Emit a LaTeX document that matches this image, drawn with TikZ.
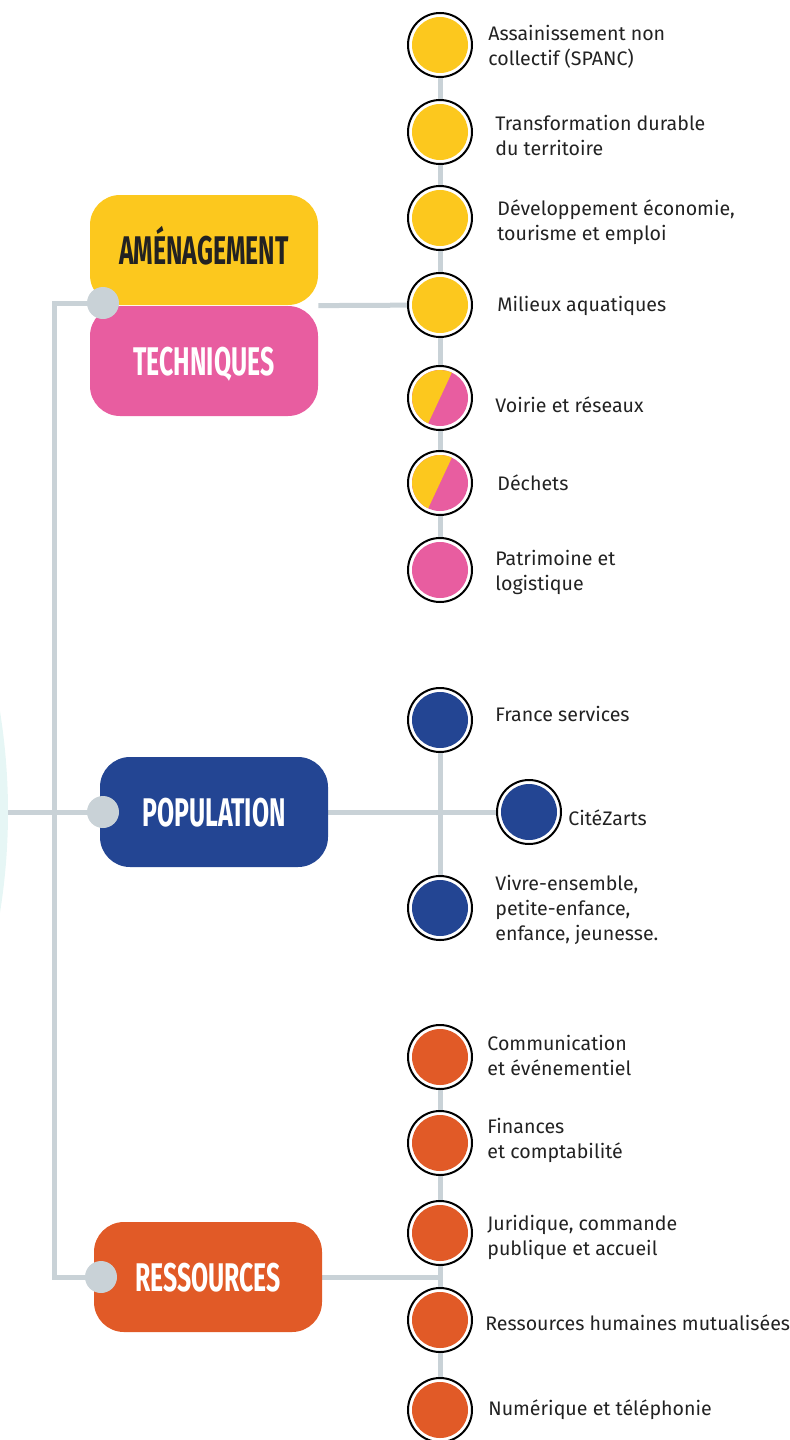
\documentclass[tikz,border=0pt]{standalone}
\usepackage{fontspec}
\setmainfont{Fira Sans}
\newfontfamily\titlefont[FakeStretch=0.62]{Fira Sans}
\usetikzlibrary{backgrounds}
\definecolor{amenyellow}{HTML}{FCC81E}
\definecolor{techpink}{HTML}{E85DA0}
\definecolor{popblue}{HTML}{234593}
\definecolor{resorange}{HTML}{E15A27}
\definecolor{linegray}{HTML}{C9D2D7}
\definecolor{paleteal}{HTML}{E6F6F5}
\definecolor{textgray}{HTML}{222222}
\tikzset{x=0.5pt, y=-0.5pt, % one unit = one pixel of the layout, y going down
        branch/.style={draw=linegray, line width=2.5pt},
        pole/.style={ % the four coloured headings
            rounded corners=15pt,
            minimum width=114pt, minimum height=55pt, inner sep=0pt,
            text height=14pt, text depth=0pt,
            font=\titlefont\bfseries\fontsize{20}{20}\selectfont},
        joint/.style={circle, fill=linegray, minimum size=16pt, inner sep=0pt},
        service/.style={ % ringed disc of one colour
            circle, draw=black, line width=1pt, fill=white,
            minimum size=32pt, inner sep=0pt,
            path picture={\fill[#1] (path picture bounding box.center) circle (14pt);}},
        shared/.style={ % half yellow, half pink
            circle, draw=black, line width=1pt, fill=white,
            minimum size=32pt, inner sep=0pt,
            path picture={
                \fill[techpink] (path picture bounding box.center) circle (14pt);
                \fill[amenyellow] (path picture bounding box.center) ++(65:14pt)
                    arc[start angle=65, end angle=245, radius=14pt] -- cycle;}},
        servtext/.style={anchor=west, align=left, inner sep=0pt,
            text=textgray, font=\fontsize{9.8}{12.5}\selectfont}
        }

\begin{document}
\begin{tikzpicture}
    \useasboundingbox (0,0) rectangle (790,1440);

    % headings
    \node[pole, fill=amenyellow, text=textgray] (amen) at (204,250) {AMÉNAGEMENT};
    \node[pole, fill=techpink, text=white] (tech) at (204,361) {TECHNIQUES};
    \node[pole, fill=popblue, text=white] (pop) at (214,812) {POPULATION};
    \node[pole, fill=resorange, text=white] (res) at (208,1277) {RESSOURCES};

    \node[joint] (dA) at (103,303) {};
    \node[joint] (dP) at (103,812) {};
    \node[joint] (dR) at (101,1277) {};

    \coordinate (trunktop) at (54,303);
    \coordinate (arcedge) at (8,812);

    % services
    \node[service=amenyellow] (c1) at (440,45) {};
    \node[service=amenyellow] (c2) at (440,132) {};
    \node[service=amenyellow] (c3) at (440,218) {};
    \node[service=amenyellow] (c4) at (440,305) {};
    \node[shared] (c5) at (440,398) {};
    \node[shared] (c6) at (440,483) {};
    \node[service=techpink] (c7) at (440,570) {};

    \node[service=popblue] (p1) at (440,720) {};
    \node[service=popblue] (p2) at (529,812) {};
    \node[service=popblue] (p3) at (440,908) {};

    \node[service=resorange] (r1) at (440,1057) {};
    \node[service=resorange] (r2) at (440,1143) {};
    \node[service=resorange] (r3) at (440,1233) {};
    \node[service=resorange] (r4) at (440,1320) {};
    \node[service=resorange] (r5) at (440,1410) {};

    \node[servtext] (t1) at (488,47) {Assainissement non\\collectif (SPANC)};
    \node[servtext] (t2) at (495,135) {Transformation durable\\du territoire};
    \node[servtext] (t3) at (497,222) {Développement économie,\\tourisme et emploi};
    \node[servtext] (t4) at (497,306) {Milieux aquatiques};
    \node[servtext] (t5) at (495,405) {Voirie et réseaux};
    \node[servtext] (t6) at (497,483) {Déchets};
    \node[servtext] (t7) at (495,572) {Patrimoine et\\logistique};

    \node[servtext] (q1) at (495,714) {France services};
    \node[servtext] (q2) at (568,818) {CitéZarts};
    \node[servtext] (q3) at (495,910) {Vivre-ensemble,\\petite-enfance,\\enfance, jeunesse.};

    \node[servtext] (s1) at (487,1055) {Communication\\et événementiel};
    \node[servtext] (s2) at (487,1140) {Finances\\et comptabilité};
    \node[servtext] (s3) at (487,1237) {Juridique, commande\\publique et accueil};
    \node[servtext] (s4) at (485,1323) {Ressources humaines mutualisées};
    \node[servtext] (s5) at (488,1410) {Numérique et téléphonie};

    \begin{scope}[on background layer]
        \begin{scope}
            \clip (0,0) rectangle (790,1440);
            \fill[paleteal] (-621,812) circle (314.5pt);
        \end{scope}
        \draw[branch] (dA.center) -- (trunktop) |- (dR.center);
        \draw[branch] (arcedge) -- (dP.center);
        \draw[branch] (tech.north east) -- (c4.center);
        \draw[branch] (c1.center) -- (c7.center);
        \draw[branch] (pop.east) -- (p2.center);
        \draw[branch] (p1.center) -- (p3.center);
        \draw[branch] (res.east) -- (res.east -| r1.center);
        \draw[branch] (r1.center) -- (r5.center);
    \end{scope}
\end{tikzpicture}
\end{document}
